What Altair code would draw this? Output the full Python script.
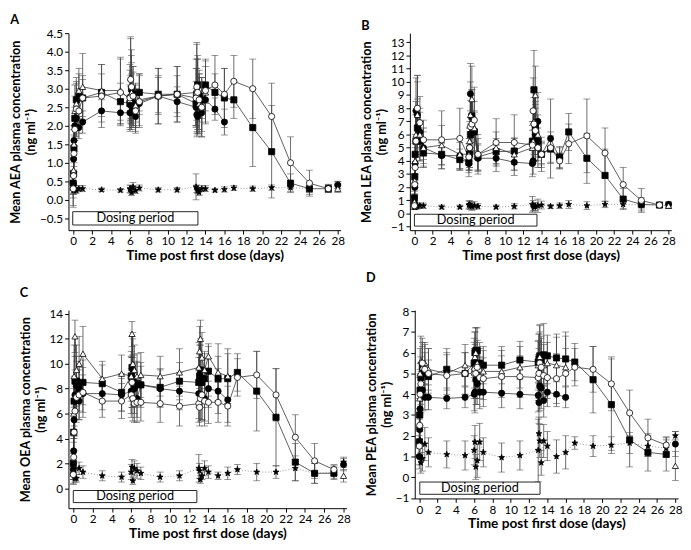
import altair as alt
import pandas as pd

# sampling times (days)
T_LONG = [0, 0.04, 0.08, 0.17, 0.33, 0.6, 1, 3, 5, 6, 6.08, 6.17, 6.33, 6.6, 7, 9, 11,
          13, 13.08, 13.17, 13.33, 13.6, 14, 15, 16, 17, 19, 21, 23, 25, 27]
T_SHORT = T_LONG[:25] + [28]
T_STAR = T_LONG + [28]

# ---------------- Panel A: AEA ----------------
fc_A = [0.45, 1.1, 1.6, 2.0, 2.2, 1.95, 2.1, 2.4, 2.35, 2.35, 2.55, 2.8, 2.45, 2.25, 2.6, 2.8, 2.65,
        2.5, 2.3, 2.25, 2.7, 2.35, 2.7, 2.45, 2.1, 0.4]
fc_A_sd = [0.2, 0.3, 0.3, 0.4, 0.5, 0.3, 0.3, 0.3, 0.3, 0.4, 0.5, 0.6, 0.5, 0.4, 0.3, 0.5, 0.4,
           0.5, 0.6, 0.5, 0.6, 0.5, 0.3, 0.3, 0.35, 0.1]
fs_A = [0.45, 0.7, 1.4, 2.2, 2.7, 2.8, 2.75, 2.9, 2.65, 2.6, 2.75, 3.0, 2.85, 2.6, 2.9, 2.85, 2.85,
        2.6, 2.85, 3.1, 2.8, 2.7, 3.1, 2.9, 2.75, 2.7, 1.95, 1.3, 0.45, 0.3, 0.3]
fs_A_sd = [0.3, 0.4, 0.5, 0.6, 0.6, 0.6, 0.5, 0.5, 0.5, 0.5, 0.6, 0.7, 0.6, 0.5, 0.5, 0.5, 0.5,
           0.6, 0.7, 0.7, 0.6, 0.5, 0.5, 0.5, 0.8, 0.5, 1.05, 1.25, 0.25, 0.15, 0.1]
oc_A = [0.3, 0.65, 1.25, 1.9, 2.45, 2.4, 2.75, 2.8, 2.9, 2.75, 3.25, 3.05, 2.8, 2.4, 2.65, 2.8, 2.85,
        2.75, 3.05, 2.9, 2.7, 2.5, 2.95, 3.1, 2.85, 3.2, 3.0, 2.25, 1.0, 0.45, 0.3]
oc_A_sd = [0.5, 0.5, 0.5, 0.6, 0.7, 0.6, 0.6, 0.85, 0.9, 0.9, 1.1, 1.0, 0.8, 0.6, 0.7, 0.75, 0.75,
           0.8, 1.2, 1.0, 0.8, 0.8, 0.85, 0.8, 0.7, 0.7, 0.8, 0.9, 0.7, 0.35, 0.1]
ot_A = [0.35, 0.8, 1.5, 2.4, 2.6, 2.95, 3.05, 2.95, 2.95, 2.7, 3.3, 2.9, 2.8, 2.55, 2.7, 2.8, 2.85,
        2.9, 3.0, 2.8, 2.6, 2.5, 2.9, None, None, 0.3]
ot_A_sd = [0.3, 0.4, 0.5, 0.7, 0.6, 0.6, 0.9, 0.7, 0.9, 0.8, 1.1, 1.0, 0.8, 0.6, 0.7, 0.75, 0.75,
           0.9, 1.2, 1.0, 0.8, 0.8, 0.85, None, None, 0.1]
st_A = [0.3, 0.25, 0.3, 0.3, 0.25, 0.3, 0.3, 0.27, 0.26, 0.3, 0.28, 0.2, 0.35, 0.25, 0.32, 0.27, 0.27,
        0.35, 0.3, 0.25, 0.2, 0.3, 0.3, 0.26, 0.28, 0.32, 0.3, 0.33, 0.33, 0.3, 0.32, 0.4]
st_A_sd = [0.45, 0.08, 0.1, 0.08, 0.07, 0.08, 0.08, 0.05, 0.05, 0.1, 0.1, 0.08, 0.12, 0.08, 0.08, 0.06, 0.06,
           0.35, 0.1, 0.08, 0.08, 0.08, 0.08, 0.05, 0.07, 0.07, 0.07, 0.07, 0.1, 0.1, 0.1, 0.1]

# ---------------- Panel B: LEA ----------------
fc_B = [0.8, 2.0, 3.8, 7.8, 7.5, 6.2, 5.0, 4.4, 4.4, 3.8, 5.0, 9.1, 7.4, 6.3, 4.2, 4.2, 3.9,
        3.8, 4.0, 5.5, 6.0, 7.0, 4.5, 5.7, 4.2, 0.7]
fc_B_sd = [0.4, 0.8, 1.5, 2.5, 2.5, 1.5, 1.2, 1.0, 1.0, 1.0, 1.5, 2.3, 2.0, 1.5, 1.0, 1.0, 1.0,
           1.0, 1.0, 1.5, 2.0, 2.2, 0.8, 3.0, 0.8, 0.2]
fs_B = [1.2, 2.8, 4.5, 5.5, 6.5, 5.5, 4.6, 4.5, 4.1, 3.9, 4.5, 6.0, 7.4, 6.2, 4.3, 4.7, 4.75,
        5.5, 5.3, 9.4, 6.5, 5.5, 4.5, 4.9, 4.3, 6.2, 4.2, 2.9, 1.1, 0.7, 0.65]
fs_B_sd = [0.5, 1.0, 1.5, 2.0, 2.2, 1.5, 1.0, 0.8, 0.8, 0.8, 1.2, 1.8, 2.0, 1.5, 1.0, 1.0, 1.0,
           1.5, 1.5, 3.0, 2.0, 1.5, 1.0, 1.0, 0.8, 1.4, 1.9, 2.0, 0.8, 0.5, 0.15]
oc_B = [0.6, 2.2, 3.5, 5.5, 8.0, 6.9, 5.6, 5.6, 5.7, 4.3, 5.0, 6.6, 6.8, 7.1, 4.5, 5.4, 5.4,
        5.2, 7.8, 6.8, 6.3, 5.0, 4.5, 5.0, 4.0, 5.3, 5.9, 4.6, 2.2, 1.0, 0.65]
oc_B_sd = [0.3, 0.8, 1.5, 2.0, 2.5, 2.0, 1.5, 2.2, 2.3, 1.0, 1.5, 2.0, 2.2, 2.5, 1.5, 1.8, 2.1,
           1.5, 2.5, 2.0, 2.0, 1.5, 1.3, 1.2, 0.6, 1.5, 2.8, 1.9, 1.3, 0.9, 0.15]
ot_B = [0.9, 2.5, 4.0, 6.0, 7.5, 6.0, 5.0, 5.2, 4.5, 4.5, 5.5, 7.5, 8.7, 6.5, 4.5, 5.0, 4.5,
        5.0, 5.5, 7.0, 9.0, 6.0, 4.6, None, None, 0.6]
ot_B_sd = [0.4, 1.0, 1.5, 2.5, 3.0, 2.0, 1.5, 1.5, 1.2, 1.2, 1.5, 2.5, 2.5, 2.0, 1.2, 1.2, 1.2,
           1.3, 1.5, 2.5, 2.2, 1.5, 0.8, None, None, 0.2]
st_B = [0.55, 0.5, 0.5, 0.6, 0.55, 0.6, 0.6, 0.5, 0.5, 0.65, 0.7, 0.6, 0.55, 0.6, 0.55, 0.5, 0.55,
        0.7, 0.6, 0.5, 0.55, 0.6, 0.65, 0.55, 0.6, 0.7, 0.6, 0.7, 0.7, 0.65, 0.65, 0.6]
st_B_sd = [0.2, 0.2, 0.2, 0.2, 0.2, 0.2, 0.2, 0.15, 0.15, 0.3, 0.3, 0.3, 0.3, 0.3, 0.2, 0.15, 0.2,
           0.6, 0.4, 0.3, 0.3, 0.5, 0.3, 0.15, 0.2, 0.3, 0.3, 0.25, 0.3, 0.3, 0.2, 0.2]

# ---------------- Panel C: OEA ----------------
fc_C = [1.5, 3.0, 5.5, 7.5, 8.2, 7.0, 7.6, 7.6, 7.5, 7.8, 8.5, 9.5, 8.0, 7.2, 8.3, 8.0, 7.8,
        7.6, 8.6, 9.0, 7.5, 7.2, 8.0, 7.8, 7.1, 1.9]
fc_C_sd = [0.8, 1.2, 1.5, 2.0, 2.0, 1.5, 1.5, 1.3, 1.3, 1.8, 2.0, 2.5, 2.0, 1.5, 1.5, 1.5, 1.5,
           2.0, 2.2, 2.5, 2.0, 1.8, 1.5, 1.8, 1.8, 0.5]
fs_C = [2.0, 4.5, 7.0, 8.6, 8.6, 8.0, 8.5, 8.4, 7.7, 9.0, 9.7, 8.7, 8.3, 8.4, 8.3, 8.1, 8.6,
        8.5, 9.0, 9.5, 8.5, 8.8, 9.4, 8.8, 8.8, 9.3, 7.8, 5.7, 2.1, 1.2, 1.2]
fs_C_sd = [0.8, 1.5, 2.0, 2.0, 2.0, 1.8, 1.8, 1.5, 1.5, 2.0, 2.5, 2.0, 1.8, 1.8, 1.8, 1.5, 1.5,
           2.0, 2.5, 2.5, 2.0, 2.0, 2.0, 1.8, 2.0, 1.5, 3.2, 3.9, 1.5, 0.8, 0.5]
oc_C = [1.1, 2.5, 4.5, 6.2, 7.3, 7.5, 7.7, 7.0, 7.0, 7.5, 8.5, 7.2, 6.8, 6.9, 6.9, 6.8, 6.6,
        6.8, 6.5, 7.2, 7.5, 7.0, 6.9, 6.9, 6.6, 8.9, 9.1, 7.5, 4.1, 2.2, 1.5]
oc_C_sd = [0.8, 1.2, 1.5, 2.0, 2.0, 2.0, 2.0, 1.3, 1.4, 1.8, 2.0, 1.8, 1.5, 1.6, 1.5, 1.5, 1.6,
           1.5, 1.5, 1.8, 2.0, 2.0, 1.7, 1.6, 1.6, 1.5, 1.9, 2.1, 1.8, 1.4, 0.4]
ot_C = [1.2, 6.0, 9.0, 12.2, 9.5, 10.0, 10.8, 8.8, 9.2, 9.0, 12.4, 10.0, 9.5, 9.0, 9.1, 9.0, 9.3,
        9.7, 11.0, 12.0, 10.5, 9.5, 10.6, 9.3, 9.0, 1.0]
ot_C_sd = [0.5, 2.0, 2.5, 1.3, 2.0, 2.2, 2.2, 1.4, 1.5, 1.6, 1.0, 2.5, 2.0, 1.8, 1.8, 1.6, 1.9,
           2.0, 2.0, 1.5, 2.0, 1.5, 1.0, 2.3, 2.2, 0.5]
st_C = [1.2, 1.5, 1.0, 0.8, 0.8, 1.6, 1.3, 1.0, 0.9, 1.3, 1.7, 0.6, 1.6, 1.4, 1.2, 0.9, 1.0,
        1.6, 1.4, 0.7, 1.0, 1.6, 1.3, 1.0, 1.2, 1.5, 1.3, 1.3, 1.6, 1.2, 1.3, 2.1]
st_C_sd = [0.8, 0.5, 0.3, 0.3, 0.3, 0.5, 0.5, 0.4, 0.4, 0.6, 0.6, 0.3, 0.6, 0.6, 0.5, 0.4, 0.4,
           1.1, 0.6, 0.3, 0.3, 0.6, 0.5, 0.3, 0.5, 0.4, 0.7, 0.5, 1.0, 0.8, 0.5, 0.4]

# ---------------- Panel D: PEA ----------------
fc_D = [1.0, 2.3, 3.3, 4.1, 4.2, 3.85, 3.85, 3.8, 3.85, 4.0, 4.1, 4.7, 4.5, 4.1, 4.1, 4.05, 4.0,
        3.95, 3.6, 4.4, 4.3, 3.7, 4.1, 4.0, 3.85, 1.6]
fc_D_sd = [0.4, 0.6, 0.8, 1.0, 1.0, 0.6, 0.6, 0.5, 0.5, 0.8, 1.0, 1.2, 1.0, 0.8, 0.7, 0.7, 0.7,
           0.8, 1.0, 1.2, 1.0, 0.8, 0.7, 0.6, 0.5, 0.6]
fs_D = [1.7, 3.0, 4.2, 4.8, 5.3, 5.0, 4.85, 5.2, 5.0, 5.5, 6.0, 6.1, 6.1, 5.5, 5.4, 5.4, 5.65,
        5.55, 5.7, 5.85, 5.6, 5.9, 5.85, 5.75, 5.7, 5.55, 4.7, 3.5, 1.8, 1.2, 1.1]
fs_D_sd = [0.6, 0.8, 1.0, 1.0, 1.0, 1.0, 0.8, 1.0, 1.0, 1.2, 1.0, 1.1, 1.1, 1.0, 0.9, 0.9, 0.9,
           1.0, 1.2, 1.5, 1.2, 1.5, 1.0, 1.0, 1.3, 0.9, 1.6, 2.2, 1.3, 0.9, 0.8]
oc_D = [1.5, 2.5, 4.0, 4.5, 5.5, 5.2, 5.0, 4.9, 5.0, 5.0, 5.2, 5.0, 5.3, 4.8, 4.75, 4.85, 4.85,
        4.8, 5.0, 5.5, 5.3, 4.9, 4.8, 4.75, 5.0, 5.3, 5.2, 4.5, 3.1, 1.9, 1.55]
oc_D_sd = [0.5, 0.8, 1.0, 1.0, 1.2, 1.2, 1.2, 1.0, 1.0, 1.2, 1.2, 1.2, 1.0, 1.0, 1.0, 1.0, 1.0,
           1.1, 1.2, 1.5, 1.2, 1.0, 1.0, 1.2, 1.2, 0.9, 1.1, 1.3, 1.1, 0.9, 0.4]
ot_D = [2.5, 3.8, 5.0, 5.6, 5.3, 5.5, 5.2, 5.0, 5.4, 5.3, 5.8, 6.0, 5.5, 5.2, 5.1, 5.1, 5.3,
        5.4, 5.6, 5.8, 5.5, 5.4, 5.5, 5.4, 5.3, 0.55]
ot_D_sd = [0.8, 1.0, 1.2, 1.2, 1.2, 1.0, 1.0, 1.0, 1.0, 1.2, 1.2, 1.2, 1.1, 1.0, 1.0, 1.0, 1.0,
           1.2, 1.3, 1.5, 1.2, 1.0, 1.0, 1.5, 1.5, 0.7]
st_D = [1.0, 1.6, 1.8, 0.7, 0.9, 1.6, 1.2, 1.1, 1.05, 1.3, 1.7, 0.5, 0.8, 1.7, 1.2, 0.95, 1.05,
        1.3, 2.1, 1.75, 0.7, 1.75, 1.5, 1.0, 1.2, 1.65, 1.5, 1.55, 1.65, 1.5, 1.4, 2.0]
st_D_sd = [0.6, 0.6, 0.7, 0.5, 0.6, 0.8, 0.7, 0.65, 0.7, 0.7, 0.8, 0.6, 0.8, 0.9, 0.7, 0.7, 0.7,
           1.5, 0.8, 0.8, 0.6, 0.8, 0.7, 0.8, 0.8, 0.3, 0.5, 0.4, 0.5, 0.5, 0.4, 0.2]

SERIES = ["fc", "fs", "oc", "ot", "st"]
STAR = ("M0,-1L0.235,-0.324L0.951,-0.309L0.38,0.124L0.588,0.809L0,0.4L-0.588,0.809"
        "L-0.38,0.124L-0.951,-0.309L-0.235,-0.324Z")
SHAPES = ["circle", "square", "circle", "triangle-up", STAR]
FILLS = ["black", "black", "white", "white", "black"]
FONT = "Lato"
X_TITLE = "Time post first dose (days)"


def build_df(series_data):
    rows = []
    for key, (times, means, sds) in series_data.items():
        for t, m, s in zip(times, means, sds):
            if m is None:
                continue
            seg = 1 if (key in ("fc", "ot") and t > 20) else 0
            rows.append({"t": t, "m": m, "lo": m - s, "hi": m + s,
                         "s": key, "grp": f"{key}{seg}"})
    return pd.DataFrame(rows)


def panel(letter, analyte, data, ydom, yvals, yfmt, box, w, h, toff):
    df = build_df(data)
    xs = alt.Scale(domain=[-0.5, 28.3], nice=False, zero=False)
    ys = alt.Scale(domain=ydom, nice=False, zero=False)
    xax = alt.Axis(values=list(range(0, 29, 2)), title=X_TITLE)
    yax = alt.Axis(values=yvals, format=yfmt,
                   title=[f"Mean {analyte} plasma concentration", "(ng ml\u207b\u00b9)"])
    X = lambda f: alt.X(f, scale=xs, axis=xax)
    Y = lambda f: alt.Y(f, scale=ys, axis=yax)

    bdf = pd.DataFrame([{"x0": box[0], "x1": box[1], "y0": box[2], "y1": box[3],
                         "xm": (box[0] + box[1]) / 2, "ym": (box[2] + box[3]) / 2,
                         "label": "Dosing period"}])
    boxr = alt.Chart(bdf).mark_rect(fill="white", stroke="#222", strokeWidth=1).encode(
        x=X("x0:Q"), x2="x1:Q", y=Y("y0:Q"), y2="y1:Q")
    boxt = alt.Chart(bdf).mark_text(font=FONT, fontSize=13, color="black").encode(
        x=X("xm:Q"), y=Y("ym:Q"), text="label:N")

    base = alt.Chart(df)
    rules = base.mark_rule(color="#444", strokeWidth=0.8).encode(x=X("t:Q"), y=Y("lo:Q"), y2="hi:Q")
    tlo = base.mark_tick(orient="horizontal", color="#444", size=7, thickness=0.8).encode(
        x=X("t:Q"), y=Y("lo:Q"))
    thi = base.mark_tick(orient="horizontal", color="#444", size=7, thickness=0.8).encode(
        x=X("t:Q"), y=Y("hi:Q"))
    lines = base.transform_filter(alt.datum.s != "st").mark_line(
        color="#333", strokeWidth=0.8).encode(x=X("t:Q"), y=Y("m:Q"), detail="grp:N", order="t:Q")
    dots = base.transform_filter(alt.datum.s == "st").mark_line(
        color="#888", strokeWidth=0.9, strokeDash=[1, 2]).encode(
        x=X("t:Q"), y=Y("m:Q"), order="t:Q")
    pts = base.mark_point(filled=True, stroke="black", strokeWidth=0.8, opacity=1, size=40).encode(
        x=X("t:Q"), y=Y("m:Q"),
        shape=alt.Shape("s:N", scale=alt.Scale(domain=SERIES, range=SHAPES), legend=None),
        fill=alt.Fill("s:N", scale=alt.Scale(domain=SERIES, range=FILLS), legend=None))
    return alt.layer(boxr, boxt, rules, tlo, thi, lines, dots, pts).properties(
        width=w, height=h,
        title=alt.TitleParams(letter, anchor="start", fontSize=13, fontWeight="bold",
                              font=FONT, offset=toff))


def series_set(fc, fcs, fs, fss, oc, ocs, ot, ots, st, sts):
    return {"st": (T_STAR, st, sts), "fc": (T_SHORT, fc, fcs), "fs": (T_LONG, fs, fss),
            "ot": (T_SHORT, ot, ots), "oc": (T_LONG, oc, ocs)}


pA = panel("A", "AEA", series_set(fc_A, fc_A_sd, fs_A, fs_A_sd, oc_A, oc_A_sd, ot_A, ot_A_sd, st_A, st_A_sd),
           [-0.82, 4.5], [-0.5 + 0.5 * i for i in range(11)], ".1f", [-0.05, 13.2, -0.32, -0.68],
           279, 202, 0)
pB = panel("B", "LEA", series_set(fc_B, fc_B_sd, fs_B, fs_B_sd, oc_B, oc_B_sd, ot_B, ot_B_sd, st_B, st_B_sd),
           [-1.26, 13.7], list(range(-1, 14)), "d", [0, 13.5, -0.05, -0.95], 268, 202, 0)
pC = panel("C", "OEA", series_set(fc_C, fc_C_sd, fs_C, fs_C_sd, oc_C, oc_C_sd, ot_C, ot_C_sd, st_C, st_C_sd),
           [-1.6, 14.3], list(range(0, 15, 2)), "d", [0, 12.8, -0.18, -1.15], 285, 203, 8)
pD = panel("D", "PEA", series_set(fc_D, fc_D_sd, fs_D, fs_D_sd, oc_D, oc_D_sd, ot_D, ot_D_sd, st_D, st_D_sd),
           [-1.02, 8.05], list(range(-1, 9)), "d", [0.05, 13.2, -0.23, -0.82], 270, 193, 21)

chart = alt.vconcat(
    alt.hconcat(pA, pB, spacing=16),
    alt.hconcat(pC, pD, spacing=16),
    spacing=10,
).configure(
    padding={"left": 2, "top": 0, "right": 0, "bottom": 0}
).configure_view(stroke=None).configure_axis(
    grid=False, domainColor="black", tickColor="black", labelColor="black", titleColor="black",
    labelFont=FONT, titleFont=FONT, labelFontSize=12, titleFontWeight="bold",
    tickSize=4, labelPadding=2, titlePadding=2, domainWidth=1, tickWidth=1,
).configure_axisX(titleFontSize=14).configure_axisY(
    titleFontSize=13, titleLineHeight=15
)

chart.save("out.html", embed_options={"renderer": "svg", "actions": False})
